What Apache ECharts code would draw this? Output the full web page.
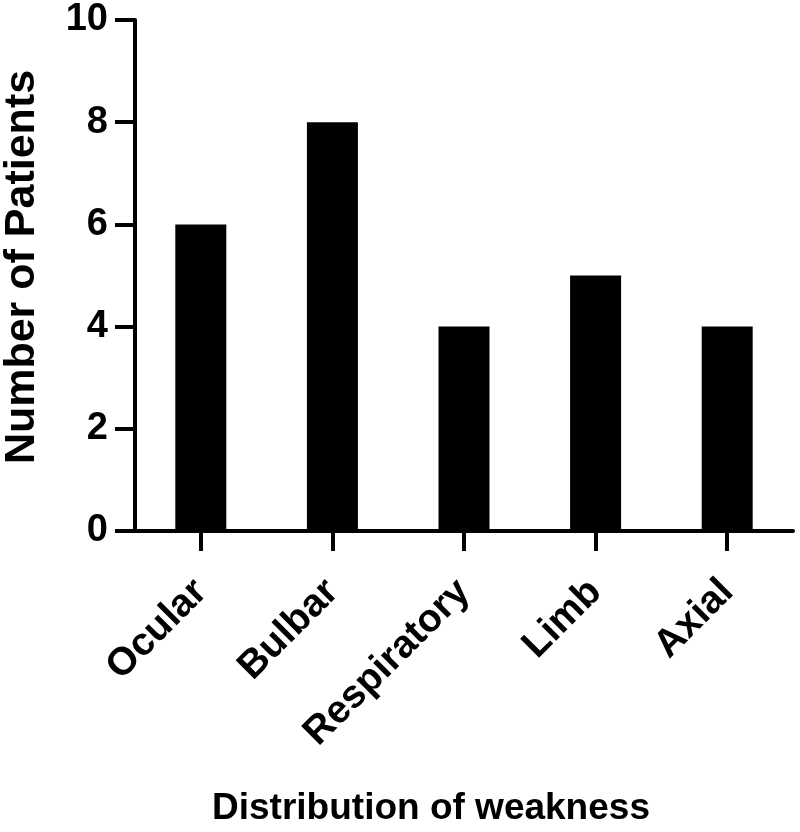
<!DOCTYPE html>
<html>
<head>
<meta charset="utf-8">
<script src="https://cdn.jsdelivr.net/npm/echarts@6/dist/echarts.min.js"></script>
<style>
  html, body { margin: 0; padding: 0; background: #fff; }
  #chart { width: 800px; height: 832px; }
</style>
</head>
<body>
<div id="chart"></div>
<script>
const categories = ["Ocular", "Bulbar", "Respiratory", "Limb", "Axial"]
const patients = [6, 8, 4, 5, 4]
const yTicks = [0, 2, 4, 6, 8, 10]

const font = "'Liberation Sans', Arial, Helvetica, sans-serif"
const axisLine = { show: true, lineStyle: { color: "#000", width: 4 } }
const axisTick = { show: true, length: 20, lineStyle: { color: "#000", width: 4 } }

const chart = echarts.init(document.getElementById("chart"))
chart.setOption({
  animation: false,
  backgroundColor: "#fff",
  // fixed plot box, labels sit outside it
  grid: { left: 135, right: 7, top: 20, bottom: 301, outerBoundsMode: "none", containLabel: false },
  xAxis: {
    type: "category",
    data: categories,
    axisLine: axisLine,
    axisTick: Object.assign({ alignWithLabel: true }, axisTick),
    axisLabel: {
      rotate: 45,
      margin: 55,
      color: "#000",
      fontFamily: font,
      fontWeight: "bold",
      fontSize: 39
    },
    name: "Distribution of weakness",
    nameLocation: "middle",
    nameGap: 259,
    nameTextStyle: {
      color: "#000",
      fontFamily: font,
      fontWeight: "bold",
      fontSize: 37,
      padding: [0, 66, 0, 0]
    }
  },
  yAxis: {
    type: "value",
    min: yTicks[0],
    max: yTicks[yTicks.length - 1],
    interval: yTicks[1] - yTicks[0],
    splitLine: { show: false },
    axisLine: axisLine,
    axisTick: axisTick,
    axisLabel: {
      margin: 27,
      color: "#000",
      fontFamily: font,
      fontWeight: "bold",
      fontSize: 38
    },
    name: "Number of Patients",
    nameLocation: "middle",
    nameGap: 91,
    nameRotate: 90,
    nameTextStyle: {
      color: "#000",
      fontFamily: font,
      fontWeight: "bold",
      fontSize: 43,
      padding: [0, 0, 0, 17]
    }
  },
  series: [{
    type: "bar",
    data: patients,
    barWidth: 51,
    itemStyle: { color: "#000" }
  }]
})
</script>
</body>
</html>
